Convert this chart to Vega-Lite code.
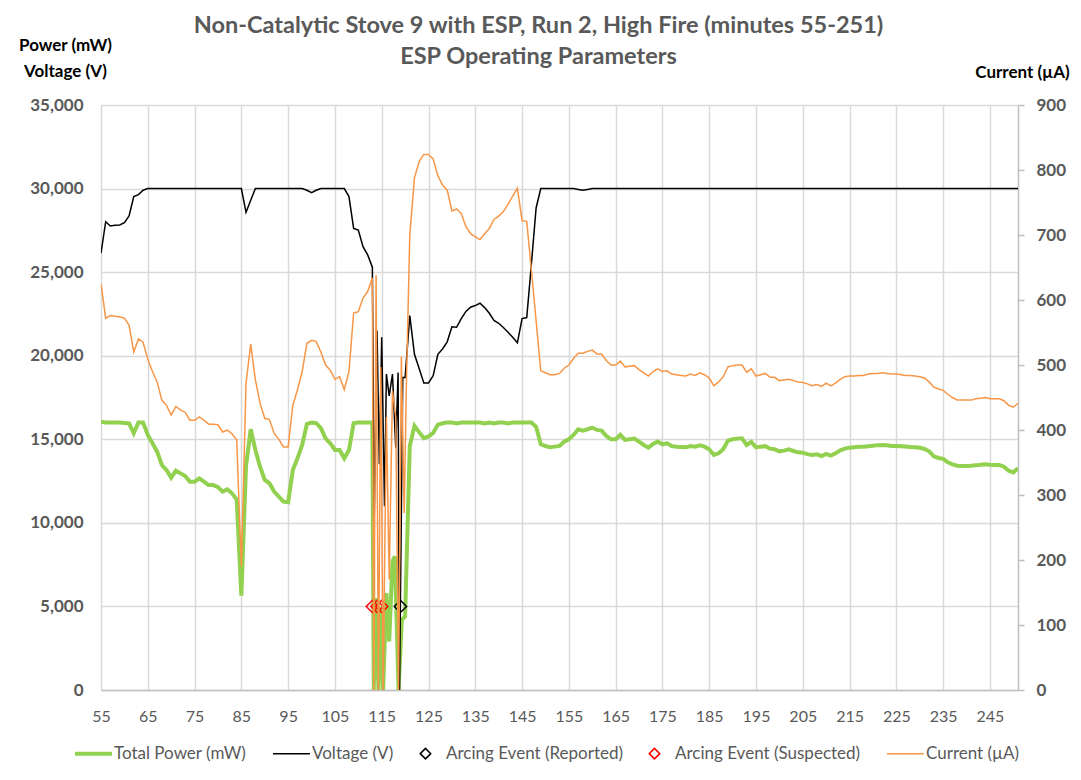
{
"$schema": "https://vega.github.io/schema/vega-lite/v6.json",
"width": 917, "height": 585,
"autosize": {"type": "none"},
"padding": {"left": 101, "top": 105, "right": 63, "bottom": 90},
"background": "white",
"config": {"font": "Lato", "view": {"stroke": null}},
"title": {"text": ["Non-Catalytic Stove 9 with ESP, Run 2, High Fire (minutes 55-251)", "ESP Operating Parameters"], "font": "Lato", "fontSize": 23.5, "fontWeight": "bold", "color": "#595959", "anchor": "middle", "dx": -21, "offset": -32, "lineHeight": 31},
"datasets": {
"power": [
{"minute":55,"value":16050},{"minute":56,"value":16000},{"minute":57,"value":16000},{"minute":58,"value":16000},{"minute":59,"value":16000},{"minute":60,"value":15980},{"minute":61,"value":15950},{"minute":62,"value":15360},{"minute":63,"value":16000},{"minute":64,"value":16000},
{"minute":65,"value":15260},{"minute":66,"value":14760},{"minute":67,"value":14260},{"minute":68,"value":13460},{"minute":69,"value":13160},{"minute":70,"value":12700},{"minute":71,"value":13120},{"minute":72,"value":12960},{"minute":73,"value":12800},{"minute":74,"value":12460},
{"minute":75,"value":12460},{"minute":76,"value":12660},{"minute":77,"value":12460},{"minute":78,"value":12260},{"minute":79,"value":12260},{"minute":80,"value":12130},{"minute":81,"value":11870},{"minute":82,"value":12000},{"minute":83,"value":11770},{"minute":84,"value":11400},
{"minute":85,"value":5650},{"minute":86,"value":13400},{"minute":87,"value":15600},{"minute":88,"value":14360},{"minute":89,"value":13360},{"minute":90,"value":12565},{"minute":91,"value":12370},{"minute":92,"value":11870},{"minute":93,"value":11570},{"minute":94,"value":11270},
{"minute":95,"value":11230},{"minute":96,"value":13160},{"minute":97,"value":13860},{"minute":98,"value":14660},{"minute":99,"value":15910},{"minute":100,"value":16000},{"minute":101,"value":15960},{"minute":102,"value":15660},{"minute":103,"value":15060},{"minute":104,"value":14760},
{"minute":105,"value":14360},{"minute":106,"value":14360},{"minute":107,"value":13860},{"minute":108,"value":14360},{"minute":109,"value":15960},{"minute":110,"value":16000},{"minute":111,"value":16000},{"minute":112,"value":16000},{"minute":113,"value":16000},
{"minute":113.3,"value":0},{"minute":113.8,"value":5500},{"minute":114.3,"value":0},{"minute":114.8,"value":5000},{"minute":115.3,"value":0},{"minute":116,"value":5800},{"minute":116.6,"value":2900},{"minute":117.3,"value":7700},{"minute":117.8,"value":8000},{"minute":118.6,"value":0},{"minute":119.3,"value":4200},{"minute":120,"value":4400},
{"minute":121,"value":14600},{"minute":122,"value":15800},{"minute":123,"value":15430},{"minute":124,"value":15065},{"minute":125,"value":15170},{"minute":126,"value":15380},{"minute":127,"value":15880},{"minute":128,"value":15960},{"minute":129,"value":16000},{"minute":130,"value":16000},
{"minute":131,"value":15950},{"minute":132,"value":16000},{"minute":133,"value":16000},{"minute":134,"value":16000},{"minute":135,"value":16000},{"minute":136,"value":16000},{"minute":137,"value":15950},{"minute":138,"value":16000},{"minute":139,"value":15950},{"minute":140,"value":16000},
{"minute":141,"value":16000},{"minute":142,"value":15950},{"minute":143,"value":16000},{"minute":144,"value":16000},{"minute":145,"value":16000},{"minute":146,"value":16000},{"minute":147,"value":16000},{"minute":148,"value":15750},{"minute":149,"value":14700},{"minute":150,"value":14600},
{"minute":151,"value":14520},{"minute":152,"value":14560},{"minute":153,"value":14600},{"minute":154,"value":14860},{"minute":155,"value":15000},{"minute":156,"value":15260},{"minute":157,"value":15600},{"minute":158,"value":15520},{"minute":159,"value":15600},{"minute":160,"value":15700},
{"minute":161,"value":15560},{"minute":162,"value":15520},{"minute":163,"value":15200},{"minute":164,"value":15000},{"minute":165,"value":15000},{"minute":166,"value":15260},{"minute":167,"value":14960},{"minute":168,"value":15000},{"minute":169,"value":15040},{"minute":170,"value":14860},
{"minute":171,"value":14660},{"minute":172,"value":14500},{"minute":173,"value":14720},{"minute":174,"value":14860},{"minute":175,"value":14700},{"minute":176,"value":14760},{"minute":177,"value":14600},{"minute":178,"value":14560},{"minute":179,"value":14540},{"minute":180,"value":14520},
{"minute":181,"value":14600},{"minute":182,"value":14560},{"minute":183,"value":14640},{"minute":184,"value":14560},{"minute":185,"value":14400},{"minute":186,"value":14060},{"minute":187,"value":14160},{"minute":188,"value":14400},{"minute":189,"value":14920},{"minute":190,"value":15000},
{"minute":191,"value":15040},{"minute":192,"value":15060},{"minute":193,"value":14660},{"minute":194,"value":14840},{"minute":195,"value":14520},{"minute":196,"value":14560},{"minute":197,"value":14590},{"minute":198,"value":14440},{"minute":199,"value":14400},{"minute":200,"value":14280},
{"minute":201,"value":14320},{"minute":202,"value":14400},{"minute":203,"value":14300},{"minute":204,"value":14220},{"minute":205,"value":14200},{"minute":206,"value":14110},{"minute":207,"value":14060},{"minute":208,"value":14100},{"minute":209,"value":14000},{"minute":210,"value":14120},
{"minute":211,"value":14020},{"minute":212,"value":14160},{"minute":213,"value":14340},{"minute":214,"value":14440},{"minute":215,"value":14500},{"minute":216,"value":14530},{"minute":217,"value":14560},{"minute":218,"value":14560},{"minute":219,"value":14590},{"minute":220,"value":14620},
{"minute":221,"value":14650},{"minute":222,"value":14660},{"minute":223,"value":14640},{"minute":224,"value":14600},{"minute":225,"value":14600},{"minute":226,"value":14590},{"minute":227,"value":14570},{"minute":228,"value":14540},{"minute":229,"value":14520},{"minute":230,"value":14490},
{"minute":231,"value":14420},{"minute":232,"value":14280},{"minute":233,"value":13980},{"minute":234,"value":13880},{"minute":235,"value":13830},{"minute":236,"value":13620},{"minute":237,"value":13500},{"minute":238,"value":13420},{"minute":239,"value":13400},{"minute":240,"value":13400},
{"minute":241,"value":13410},{"minute":242,"value":13440},{"minute":243,"value":13480},{"minute":244,"value":13500},{"minute":245,"value":13470},{"minute":246,"value":13460},{"minute":247,"value":13460},{"minute":248,"value":13360},{"minute":249,"value":13120},{"minute":250,"value":13020},{"minute":251,"value":13260}
],
"voltage": [
{"minute":55,"value":26130},{"minute":56,"value":28020},{"minute":57,"value":27760},{"minute":58,"value":27800},{"minute":59,"value":27820},{"minute":60,"value":27960},{"minute":61,"value":28360},{"minute":62,"value":29520},{"minute":63,"value":29640},{"minute":64,"value":29900},
{"minute":65,"value":30000},{"minute":66,"value":30000},{"minute":67,"value":30000},{"minute":68,"value":30000},{"minute":69,"value":30000},{"minute":70,"value":30000},{"minute":71,"value":30000},{"minute":72,"value":30000},{"minute":73,"value":30000},{"minute":74,"value":30000},
{"minute":75,"value":30000},{"minute":76,"value":30000},{"minute":77,"value":30000},{"minute":78,"value":30000},{"minute":79,"value":30000},{"minute":80,"value":30000},{"minute":81,"value":30000},{"minute":82,"value":30000},{"minute":83,"value":30000},{"minute":84,"value":30000},
{"minute":85,"value":30000},{"minute":86,"value":28580},{"minute":87,"value":29300},{"minute":88,"value":30000},{"minute":89,"value":30000},{"minute":90,"value":30000},{"minute":91,"value":30000},{"minute":92,"value":30000},{"minute":93,"value":30000},{"minute":94,"value":30000},
{"minute":95,"value":30000},{"minute":96,"value":30000},{"minute":97,"value":30000},{"minute":98,"value":30000},{"minute":99,"value":29900},{"minute":100,"value":29750},{"minute":101,"value":29900},{"minute":102,"value":30000},{"minute":103,"value":30000},{"minute":104,"value":30000},
{"minute":105,"value":30000},{"minute":106,"value":30000},{"minute":107,"value":30000},{"minute":108,"value":29520},{"minute":109,"value":27620},{"minute":110,"value":27520},{"minute":111,"value":26520},{"minute":112,"value":26030},{"minute":113,"value":25300},
{"minute":113.4,"value":10300},{"minute":114,"value":21500},{"minute":114.5,"value":13500},{"minute":115,"value":21100},{"minute":115.6,"value":11000},{"minute":116,"value":18900},{"minute":116.6,"value":17600},{"minute":117.3,"value":18900},{"minute":118,"value":14500},{"minute":118.5,"value":19000},{"minute":118.8,"value":0},{"minute":119.5,"value":18700},{"minute":120,"value":18700},
{"minute":121,"value":22400},{"minute":122,"value":20085},{"minute":123,"value":19230},{"minute":124,"value":18375},{"minute":125,"value":18375},{"minute":126,"value":18800},{"minute":127,"value":20085},{"minute":128,"value":20400},{"minute":129,"value":20830},{"minute":130,"value":21730},
{"minute":131,"value":21700},{"minute":132,"value":22220},{"minute":133,"value":22650},{"minute":134,"value":22900},{"minute":135,"value":23000},{"minute":136,"value":23140},{"minute":137,"value":22880},{"minute":138,"value":22540},{"minute":139,"value":22110},{"minute":140,"value":21940},
{"minute":141,"value":21690},{"minute":142,"value":21400},{"minute":143,"value":21100},{"minute":144,"value":20770},{"minute":145,"value":22220},{"minute":146,"value":22280},{"minute":147,"value":25500},{"minute":148,"value":28840},{"minute":149,"value":30000},{"minute":150,"value":30000},
{"minute":151,"value":30000},{"minute":152,"value":30000},{"minute":153,"value":30000},{"minute":154,"value":30000},{"minute":155,"value":30000},{"minute":156,"value":30000},{"minute":157,"value":29950},{"minute":158,"value":29900},{"minute":159,"value":29950},{"minute":160,"value":30000},
{"minute":161,"value":30000},{"minute":162,"value":30000},{"minute":163,"value":30000},{"minute":164,"value":30000},{"minute":165,"value":30000},{"minute":166,"value":30000},{"minute":167,"value":30000},{"minute":168,"value":30000},{"minute":169,"value":30000},{"minute":170,"value":30000},
{"minute":171,"value":30000},{"minute":172,"value":30000},{"minute":173,"value":30000},{"minute":174,"value":30000},{"minute":175,"value":30000},{"minute":176,"value":30000},{"minute":177,"value":30000},{"minute":178,"value":30000},{"minute":179,"value":30000},{"minute":180,"value":30000},
{"minute":181,"value":30000},{"minute":182,"value":30000},{"minute":183,"value":30000},{"minute":184,"value":30000},{"minute":185,"value":30000},{"minute":186,"value":30000},{"minute":187,"value":30000},{"minute":188,"value":30000},{"minute":189,"value":30000},{"minute":190,"value":30000},
{"minute":191,"value":30000},{"minute":192,"value":30000},{"minute":193,"value":30000},{"minute":194,"value":30000},{"minute":195,"value":30000},{"minute":196,"value":30000},{"minute":197,"value":30000},{"minute":198,"value":30000},{"minute":199,"value":30000},{"minute":200,"value":30000},
{"minute":201,"value":30000},{"minute":202,"value":30000},{"minute":203,"value":30000},{"minute":204,"value":30000},{"minute":205,"value":30000},{"minute":206,"value":30000},{"minute":207,"value":30000},{"minute":208,"value":30000},{"minute":209,"value":30000},{"minute":210,"value":30000},
{"minute":211,"value":30000},{"minute":212,"value":30000},{"minute":213,"value":30000},{"minute":214,"value":30000},{"minute":215,"value":30000},{"minute":216,"value":30000},{"minute":217,"value":30000},{"minute":218,"value":30000},{"minute":219,"value":30000},{"minute":220,"value":30000},
{"minute":221,"value":30000},{"minute":222,"value":30000},{"minute":223,"value":30000},{"minute":224,"value":30000},{"minute":225,"value":30000},{"minute":226,"value":30000},{"minute":227,"value":30000},{"minute":228,"value":30000},{"minute":229,"value":30000},{"minute":230,"value":30000},
{"minute":231,"value":30000},{"minute":232,"value":30000},{"minute":233,"value":30000},{"minute":234,"value":30000},{"minute":235,"value":30000},{"minute":236,"value":30000},{"minute":237,"value":30000},{"minute":238,"value":30000},{"minute":239,"value":30000},{"minute":240,"value":30000},
{"minute":241,"value":30000},{"minute":242,"value":30000},{"minute":243,"value":30000},{"minute":244,"value":30000},{"minute":245,"value":30000},{"minute":246,"value":30000},{"minute":247,"value":30000},{"minute":248,"value":30000},{"minute":249,"value":30000},{"minute":250,"value":30000},{"minute":251,"value":30000}
],
"current": [
{"minute":55,"value":625},{"minute":56,"value":572},{"minute":57,"value":576},{"minute":58,"value":575},{"minute":59,"value":574},{"minute":60,"value":572},{"minute":61,"value":561},{"minute":62,"value":520},{"minute":63,"value":540},{"minute":64,"value":535},
{"minute":65,"value":509},{"minute":66,"value":490},{"minute":67,"value":474},{"minute":68,"value":446},{"minute":69,"value":438},{"minute":70,"value":423},{"minute":71,"value":436},{"minute":72,"value":431},{"minute":73,"value":427},{"minute":74,"value":415},
{"minute":75,"value":415},{"minute":76,"value":420},{"minute":77,"value":415},{"minute":78,"value":409},{"minute":79,"value":409},{"minute":80,"value":408},{"minute":81,"value":397},{"minute":82,"value":400},{"minute":83,"value":394},{"minute":84,"value":385},
{"minute":85,"value":190},{"minute":86,"value":472},{"minute":87,"value":532},{"minute":88,"value":477},{"minute":89,"value":441},{"minute":90,"value":418},{"minute":91,"value":416},{"minute":92,"value":395},{"minute":93,"value":386},{"minute":94,"value":374},
{"minute":95,"value":374},{"minute":96,"value":438},{"minute":97,"value":462},{"minute":98,"value":490},{"minute":99,"value":533},{"minute":100,"value":538},{"minute":101,"value":536},{"minute":102,"value":520},{"minute":103,"value":500},{"minute":104,"value":492},
{"minute":105,"value":478},{"minute":106,"value":482},{"minute":107,"value":462},{"minute":108,"value":490},{"minute":109,"value":580},{"minute":110,"value":582},{"minute":111,"value":603},{"minute":112,"value":613},{"minute":113,"value":634},
{"minute":113.3,"value":0},{"minute":113.8,"value":638},{"minute":114.3,"value":0},{"minute":114.8,"value":497},{"minute":115.3,"value":0},{"minute":116,"value":420},{"minute":116.6,"value":170},{"minute":117.3,"value":460},{"minute":118,"value":420},{"minute":118.6,"value":0},{"minute":119.2,"value":513},{"minute":119.8,"value":272},{"minute":120.3,"value":480},
{"minute":121,"value":700},{"minute":122,"value":788},{"minute":123,"value":813},{"minute":124,"value":824},{"minute":125,"value":824},{"minute":126,"value":817},{"minute":127,"value":791},{"minute":128,"value":777},{"minute":129,"value":769},{"minute":130,"value":737},
{"minute":131,"value":740},{"minute":132,"value":733},{"minute":133,"value":713},{"minute":134,"value":702},{"minute":135,"value":697},{"minute":136,"value":693},{"minute":137,"value":702},{"minute":138,"value":710},{"minute":139,"value":724},{"minute":140,"value":729},
{"minute":141,"value":736},{"minute":142,"value":747},{"minute":143,"value":760},{"minute":144,"value":772},{"minute":145,"value":722},{"minute":146,"value":721},{"minute":147,"value":645},{"minute":148,"value":568},{"minute":149,"value":491},{"minute":150,"value":488},
{"minute":151,"value":485},{"minute":152,"value":485},{"minute":153,"value":487},{"minute":154,"value":495},{"minute":155,"value":500},{"minute":156,"value":510},{"minute":157,"value":518},{"minute":158,"value":518},{"minute":159,"value":521},{"minute":160,"value":523},
{"minute":161,"value":517},{"minute":162,"value":517},{"minute":163,"value":507},{"minute":164,"value":500},{"minute":165,"value":500},{"minute":166,"value":506},{"minute":167,"value":497},{"minute":168,"value":498},{"minute":169,"value":499},{"minute":170,"value":493},
{"minute":171,"value":488},{"minute":172,"value":483},{"minute":173,"value":490},{"minute":174,"value":494},{"minute":175,"value":490},{"minute":176,"value":491},{"minute":177,"value":486},{"minute":178,"value":485},{"minute":179,"value":484},{"minute":180,"value":483},
{"minute":181,"value":486},{"minute":182,"value":484},{"minute":183,"value":488},{"minute":184,"value":485},{"minute":185,"value":480},{"minute":186,"value":468},{"minute":187,"value":474},{"minute":188,"value":482},{"minute":189,"value":497},{"minute":190,"value":499},
{"minute":191,"value":500},{"minute":192,"value":500},{"minute":193,"value":489},{"minute":194,"value":494},{"minute":195,"value":483},{"minute":196,"value":485},{"minute":197,"value":487},{"minute":198,"value":481},{"minute":199,"value":481},{"minute":200,"value":476},
{"minute":201,"value":477},{"minute":202,"value":478},{"minute":203,"value":476},{"minute":204,"value":474},{"minute":205,"value":473},{"minute":206,"value":471},{"minute":207,"value":468},{"minute":208,"value":470},{"minute":209,"value":467},{"minute":210,"value":472},
{"minute":211,"value":468},{"minute":212,"value":472},{"minute":213,"value":478},{"minute":214,"value":482},{"minute":215,"value":483},{"minute":216,"value":483},{"minute":217,"value":484},{"minute":218,"value":484},{"minute":219,"value":486},{"minute":220,"value":487},
{"minute":221,"value":487},{"minute":222,"value":488},{"minute":223,"value":487},{"minute":224,"value":486},{"minute":225,"value":486},{"minute":226,"value":485},{"minute":227,"value":484},{"minute":228,"value":484},{"minute":229,"value":483},{"minute":230,"value":482},
{"minute":231,"value":480},{"minute":232,"value":474},{"minute":233,"value":466},{"minute":234,"value":463},{"minute":235,"value":461},{"minute":236,"value":455},{"minute":237,"value":450},{"minute":238,"value":446},{"minute":239,"value":446},{"minute":240,"value":446},
{"minute":241,"value":446},{"minute":242,"value":448},{"minute":243,"value":449},{"minute":244,"value":450},{"minute":245,"value":448},{"minute":246,"value":448},{"minute":247,"value":448},{"minute":248,"value":445},{"minute":249,"value":438},{"minute":250,"value":435},{"minute":251,"value":441}
],
"events": [
{"minute":113,"value":5000,"event":"Arcing Event (Suspected)"},
{"minute":114,"value":5000,"event":"Arcing Event (Suspected)"},
{"minute":115,"value":5000,"event":"Arcing Event (Suspected)"},
{"minute":119,"value":5000,"event":"Arcing Event (Reported)"}
]
},
"layer": [
{
"encoding": {
"x": {"field": "minute", "type": "quantitative", "scale": {"domain": [55, 251], "nice": false, "zero": false},
  "axis": {"values": [55,65,75,85,95,105,115,125,135,145,155,165,175,185,195,205,215,225,235,245], "title": null, "grid": true, "gridColor": "#d9d9d9", "gridWidth": 1.5, "domain": true, "domainColor": "#bfbfbf", "domainWidth": 1.5, "ticks": false, "labelFlush": false, "labelFont": "Lato", "labelFontSize": 16, "labelColor": "#595959", "labelPadding": 18}},
"y": {"field": "value", "type": "quantitative", "scale": {"domain": [0, 35000], "nice": false},
  "axis": {"values": [0,5000,10000,15000,20000,25000,30000,35000], "format": ",.0f", "grid": true, "gridColor": "#d9d9d9", "gridWidth": 1.5, "domain": false, "ticks": false, "labelFont": "Lato", "labelFontSize": 17, "labelFontWeight": "bold", "labelColor": "#595959", "labelPadding": 18,
   "title": ["Power (mW)", "Voltage (V)"], "titleAngle": 0, "titleAlign": "center", "titleBaseline": "alphabetic", "titleX": -36, "titleY": -55, "titleFont": "Lato", "titleFontSize": 17, "titleFontWeight": "bold", "titleColor": "#000000", "titleLineHeight": 26}},
"color": {"field": "series", "type": "nominal",
   "scale": {"domain": ["Total Power (mW)", "Voltage (V)", "Arcing Event (Reported)", "Arcing Event (Suspected)", "Current (µA)"], "range": ["#92D050", "#000000", "#000000", "#FF0000", "#F79646"]},
   "legend": {"orient": "none", "legendX": -16, "legendY": 640, "direction": "horizontal", "columns": 5, "columnPadding": 23, "title": null, "labelFont": "Lato", "labelFontSize": 17, "labelColor": "#595959", "labelOffset": 12, "labelLimit": 400, "symbolSize": 1369,
     "encode": {"symbols": {"update": {
       "shape": {"signal": "datum.value == 'Arcing Event (Reported)' || datum.value == 'Arcing Event (Suspected)' ? 'diamond' : 'stroke'"},
       "size": {"signal": "datum.value == 'Arcing Event (Reported)' || datum.value == 'Arcing Event (Suspected)' ? 110 : 1369"},
       "strokeWidth": {"signal": "datum.value == 'Total Power (mW)' ? 4 : 1.5"},
       "fill": {"value": "transparent"}}}}}}
},
"layer": [
{"data": {"name": "power"}, "transform": [{"calculate": "'Total Power (mW)'", "as": "series"}], "mark": {"type": "line", "strokeWidth": 4, "clip": true}},
{"data": {"name": "voltage"}, "transform": [{"calculate": "'Voltage (V)'", "as": "series"}], "mark": {"type": "line", "strokeWidth": 1.5, "clip": true}},
{"data": {"name": "events"}, "transform": [{"calculate": "datum.event", "as": "series"}], "mark": {"type": "point", "shape": "diamond", "filled": false, "size": 150, "strokeWidth": 1.5, "opacity": 1}}
]
},
{
"data": {"name": "current"}, "transform": [{"calculate": "'Current (µA)'", "as": "series"}], "mark": {"type": "line", "strokeWidth": 1.5, "clip": true},
"encoding": {
"x": {"field": "minute", "type": "quantitative"},
"y": {"field": "value", "type": "quantitative", "scale": {"domain": [0, 900], "nice": false},
  "axis": {"orient": "right", "values": [0,100,200,300,400,500,600,700,800,900], "grid": false, "domain": true, "domainColor": "#bfbfbf", "domainWidth": 1.5, "ticks": true, "tickColor": "#bfbfbf", "tickSize": 6, "tickWidth": 1.5, "labelFont": "Lato", "labelFontSize": 17, "labelFontWeight": "bold", "labelColor": "#595959", "labelPadding": 12,
   "title": "Current (µA)", "titleAngle": 0, "titleAlign": "center", "titleBaseline": "alphabetic", "titleX": 4, "titleY": -28, "titleFont": "Lato", "titleFontSize": 17, "titleFontWeight": "bold", "titleColor": "#000000"}},
"color": {"field": "series", "type": "nominal"}
}
}
],
"resolve": {"scale": {"y": "independent"}}
}
